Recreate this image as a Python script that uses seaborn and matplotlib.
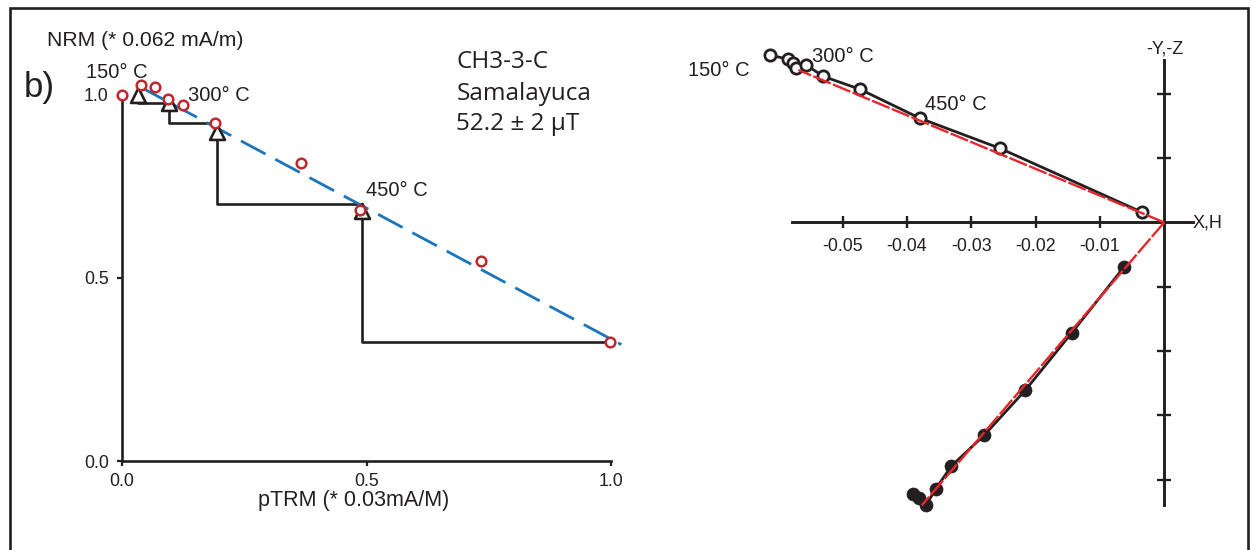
import numpy as np
import pandas as pd
import matplotlib
matplotlib.use("Agg")
import matplotlib.pyplot as plt
from matplotlib.patches import Rectangle
import seaborn as sns

# ---------------- data: Arai plot (left) ----------------
ptrm_x = [0.0, 0.038, 0.067, 0.095, 0.125, 0.190, 0.367, 0.486, 0.734, 0.998]
nrm_y = [1.0, 1.028, 1.021, 0.990, 0.973, 0.923, 0.814, 0.687, 0.547, 0.326]
check_x = [0.033, 0.097, 0.194, 0.490]
check_y = [1.0, 0.979, 0.900, 0.684]
step_x = [0.033, 0.097, 0.194, 0.490, 1.0]
step_y = [1.0, 0.979, 0.924, 0.703, 0.324]
fit_x = [0.033, 1.021]
fit_y = [1.025, 0.318]
arai_ticks = [0.0, 0.5, 1.0]
arai_ticklabels = ["0.0", "0.5", "1.0"]

# ---------------- data: Zijderveld plot (right) ----------------
horiz_x = [-0.0613, -0.0585, -0.0577, -0.0572, -0.0557, -0.0530, -0.0473, -0.0380, -0.0255, -0.0035]
horiz_y = [0.0260, 0.0254, 0.0248, 0.0240, 0.0245, 0.0227, 0.0207, 0.0162, 0.0115, 0.0016]
vert_x = [-0.0063, -0.0144, -0.0216, -0.0280, -0.0331, -0.0355, -0.0370, -0.0382, -0.0391]
vert_y = [-0.0070, -0.0172, -0.0261, -0.0331, -0.0379, -0.0414, -0.0439, -0.0429, -0.0423]
fitH_x = [0.0, -0.0569]
fitH_y = [0.0, 0.0237]
fitV_x = [0.0, -0.0377]
fitV_y = [0.0, -0.0440]
zij_xticks = [-0.05, -0.04, -0.03, -0.02, -0.01]
zij_xticklabels = ["-0.05", "-0.04", "-0.03", "-0.02", "-0.01"]
zij_yticks = [0.02, 0.01, -0.01, -0.02, -0.03, -0.04]

# ---------------- style ----------------
sns.set_theme(style="white")
plt.rcParams["font.family"] = ["Liberation Sans", "DejaVu Sans"]
INK = "#231f20"
RED_PT = "#c1272d"
BLUE = "#1b75bc"
RED_FIT = "#e8262b"

W, H = 1253, 550
fig = plt.figure(figsize=(W / 100, H / 100), dpi=100)
fig.patch.set_facecolor("white")


def fx(px):
    return px / W


def fy(py):
    return 1 - py / H


def ftext(px, py, s, **kw):
    kw.setdefault("color", INK)
    fig.text(fx(px), fy(py), s, **kw)


# ---------------- left: Arai plot ----------------
ax1 = fig.add_axes([fx(122), fy(461), (630.6 - 122) / W, (461 - 73) / H])
ax1.set_facecolor("none")
ax1.set_xlim(0, 1.04)
ax1.set_ylim(0, 1.06)

# staircase of pTRM checks
sx, sy = [step_x[0]], [step_y[0]]
for i in range(1, len(step_x)):
    sx += [step_x[i - 1], step_x[i]]
    sy += [step_y[i], step_y[i]]
stairs = pd.DataFrame({"x": sx, "y": sy})
sns.lineplot(data=stairs, x="x", y="y", sort=False, estimator=None, ax=ax1,
             color=INK, lw=1.9, zorder=2)

fit_df = pd.DataFrame({"x": fit_x, "y": fit_y})
sns.lineplot(data=fit_df, x="x", y="y", sort=False, estimator=None, ax=ax1,
             color=BLUE, lw=2.0, zorder=3, clip_on=False
             ).lines[-1].set_dashes((10, 4))

chk = pd.DataFrame({"x": check_x, "y": check_y})
sns.scatterplot(data=chk, x="x", y="y", ax=ax1, marker="^", s=115,
                color="white", edgecolor=INK, linewidth=1.9, zorder=4, clip_on=False)

pts = pd.DataFrame({"x": ptrm_x, "y": nrm_y})
sns.scatterplot(data=pts, x="x", y="y", ax=ax1, marker="o", s=48,
                color="white", edgecolor=RED_PT, linewidth=1.8, zorder=5, clip_on=False)

for side in ["top", "right"]:
    ax1.spines[side].set_visible(False)
for side in ["left", "bottom"]:
    ax1.spines[side].set_color(INK)
    ax1.spines[side].set_linewidth(1.9)
    ax1.spines[side].set_bounds(0, 1.0)
ax1.set_xticks(arai_ticks)
ax1.set_xticklabels(arai_ticklabels)
ax1.set_yticks(arai_ticks)
ax1.set_yticklabels(arai_ticklabels)
ax1.tick_params(axis="both", direction="out", length=3.6, width=1.6, color=INK,
                labelsize=12.8, labelcolor=INK)
ax1.tick_params(axis="x", pad=5)
ax1.tick_params(axis="y", pad=6)
ax1.tick_params(left=True, bottom=True)
ax1.set_xlabel("")
ax1.set_ylabel("")

# ---------------- right: Zijderveld plot ----------------
x0px, y0px, scale = 1164.2, 222.4, 6430.0
ax2 = fig.add_axes([fx(760), fy(530), 480 / W, 490 / H])
ax2.set_facecolor("none")
ax2.set_xlim((760 - x0px) / scale, (1240 - x0px) / scale)
ax2.set_ylim((y0px - 530) / scale, (y0px - 40) / scale)

hdf = pd.DataFrame({"x": horiz_x, "y": horiz_y})
vdf = pd.DataFrame({"x": vert_x, "y": vert_y})
sns.lineplot(data=hdf, x="x", y="y", sort=False, estimator=None, ax=ax2,
             color=INK, lw=2.0, zorder=3)
sns.lineplot(data=vdf, x="x", y="y", sort=False, estimator=None, ax=ax2,
             color=INK, lw=2.0, zorder=3)
sns.scatterplot(data=hdf, x="x", y="y", ax=ax2, marker="o", s=66,
                color="white", edgecolor=INK, linewidth=2.0, zorder=4, clip_on=False)
sns.scatterplot(data=vdf, x="x", y="y", ax=ax2, marker="o", s=88,
                color=INK, edgecolor=INK, linewidth=0.5, zorder=4, clip_on=False)
for fxs, fys in [(fitH_x, fitH_y), (fitV_x, fitV_y)]:
    fdf = pd.DataFrame({"x": fxs, "y": fys})
    sns.lineplot(data=fdf, x="x", y="y", sort=False, estimator=None, ax=ax2,
                 color=RED_FIT, lw=1.7, zorder=5).lines[-1].set_dashes((8, 1.0))

for side in ["top", "right"]:
    ax2.spines[side].set_visible(False)
ax2.spines["left"].set_position("zero")
ax2.spines["bottom"].set_position("zero")
ax2.spines["left"].set_bounds((y0px - 505) / scale, (y0px - 60) / scale)
ax2.spines["bottom"].set_bounds((792.5 - x0px) / scale, (1192.7 - x0px) / scale)
for side in ["left", "bottom"]:
    ax2.spines[side].set_color(INK)
    ax2.spines[side].set_linewidth(2.1)
    ax2.spines[side].set_zorder(1)
ax2.set_xticks(zij_xticks)
ax2.set_xticklabels(zij_xticklabels)
ax2.set_yticks(zij_yticks)
ax2.set_yticklabels([])
ax2.tick_params(axis="x", direction="inout", length=8, width=1.7, color=INK,
                pad=7, labelsize=12.8, labelcolor=INK, bottom=True)
ax2.tick_params(axis="y", direction="inout", length=10, width=1.7, color=INK,
                left=True, labelleft=False)
ax2.set_xlabel("")
ax2.set_ylabel("")

# ---------------- texts ----------------
ftext(47, 45.7, "NRM (* 0.062 mA/m)", fontsize=15.2, va="baseline", ha="left")
ftext(24, 96.5, "b)", fontsize=25, va="baseline", ha="left")
ftext(86.5, 77.5, "150° C", fontsize=14.5, va="baseline", ha="left")
ftext(188.3, 100.7, "300° C", fontsize=14.5, va="baseline", ha="left")
ftext(366, 196, "450° C", fontsize=14.5, va="baseline", ha="left")
ftext(354, 506, "pTRM (* 0.03mA/M)", fontsize=15.5, va="baseline", ha="center")

for i, s in enumerate(["CH3-3-C", "Samalayuca", "52.2 ± 2 µT"]):
    ftext(456.5, [68.3, 100, 130.5][i], s, fontsize=17.5, va="baseline", ha="left",
          family=["Open Sans", "DejaVu Sans"])

ftext(688, 76, "150° C", fontsize=14.5, va="baseline", ha="left")
ftext(811.7, 61.7, "300° C", fontsize=14.5, va="baseline", ha="left")
ftext(925, 110, "450° C", fontsize=14.5, va="baseline", ha="left")
ftext(1165, 53.3, "-Y,-Z", fontsize=13, va="baseline", ha="center")
ftext(1193, 228, "X,H", fontsize=13, va="baseline", ha="left")

# outer frame (bottom edge falls outside the image)
fig.add_artist(Rectangle((fx(9.5), fy(580)), (1247.7 - 9.5) / W, (580 - 7.5) / H,
                         fill=False, lw=1.9, edgecolor=INK,
                         transform=fig.transFigure, clip_on=False))

fig.savefig("out.png", dpi=100, facecolor="white")
